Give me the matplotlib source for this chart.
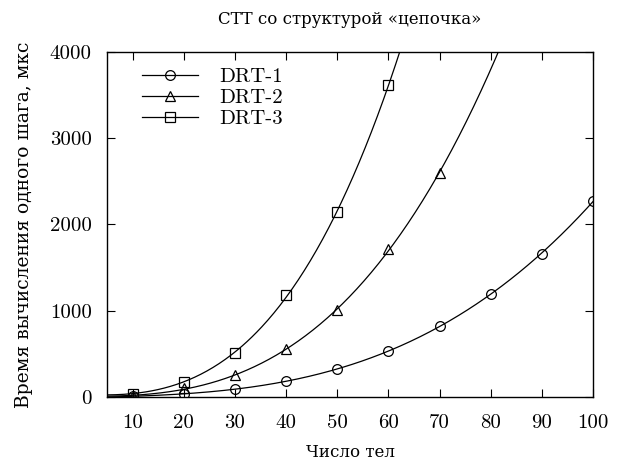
import numpy as np
import matplotlib
matplotlib.use('Agg')
import matplotlib.pyplot as plt

# Time per integration step (microseconds) vs number of bodies
n_bodies = [10, 20, 30, 40, 50, 60, 70, 80, 90, 100]
drt1 = [10, 35, 89, 182, 325, 533, 823, 1194, 1658, 2272]
drt2 = [15, 100, 251, 553, 1009, 1712, 2601]
drt3 = [40, 178, 507, 1179, 2141, 3614]

series = [
    ('DRT-1', drt1, 'o'),
    ('DRT-2', drt2, '^'),
    ('DRT-3', drt3, 's'),
]

plt.rcParams['font.family'] = ['DejaVu Serif']
plt.rcParams['font.size'] = 12
num_font = ['cmr10', 'DejaVu Serif']

fig = plt.figure(figsize=(6.25, 4.68), dpi=100)
ax = fig.add_axes([107 / 625, 71 / 468, 486 / 625, 345 / 468])

xs = np.linspace(5, 100, 400)
for name, ys, mk in series:
    x = np.array(n_bodies[:len(ys)], dtype=float)
    coef = np.polyfit(x, ys, 3)
    ax.plot(xs, np.polyval(coef, xs), color='black', lw=0.9)
    ax.plot(x, ys, linestyle='none', marker=mk, ms=7, mfc='none',
            mec='black', mew=0.9)
    # legend entry: line with marker in the middle
    ax.plot([], [], color='black', lw=0.9, marker=mk, ms=7, mfc='none',
            mec='black', mew=0.9, label=name)

ax.set_xlim(5, 100)
ax.set_ylim(0, 4000)
ax.set_xticks(n_bodies)
ax.set_yticks([0, 1000, 2000, 3000, 4000])
ax.tick_params(direction='in', top=True, right=True, length=6, width=0.8,
               labelsize=15, pad=11)
ax.tick_params(axis='x', pad=12)
for lbl in ax.get_xticklabels() + ax.get_yticklabels():
    lbl.set_family(num_font)
for s in ax.spines.values():
    s.set_linewidth(1.0)

ax.set_title('СТТ со структурой «цепочка»', fontsize=12, pad=20)
ax.set_xlabel('Число тел', fontsize=12, labelpad=9)
ax.set_ylabel('Время вычисления одного шага, мкс', fontsize=13.5, labelpad=12)

leg = ax.legend(loc='upper left', frameon=False, fontsize=15, handlelength=2.7,
                handletextpad=1.0, labelspacing=0.12, borderaxespad=0.35,
                bbox_to_anchor=(0.04, 1.0))
for t in leg.get_texts():
    t.set_family(num_font)

fig.savefig('out.png', dpi=100)
